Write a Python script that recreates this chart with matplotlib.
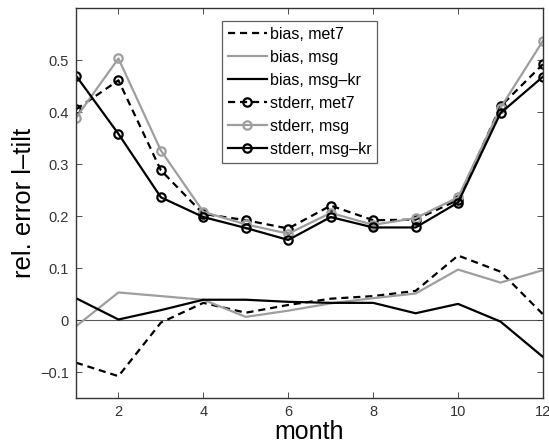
import matplotlib
matplotlib.use("Agg")
import matplotlib.pyplot as plt
import numpy as np

months = [1, 2, 3, 4, 5, 6, 7, 8, 9, 10, 11, 12]

bias_met7 = [-0.082, -0.108, -0.005, 0.033, 0.014, 0.029, 0.041, 0.046, 0.056, 0.124, 0.093, 0.011]
bias_msg = [-0.012, 0.053, 0.046, 0.039, 0.006, 0.018, 0.032, 0.042, 0.051, 0.097, 0.072, 0.096]
bias_msgkr = [0.042, 0.001, 0.019, 0.039, 0.039, 0.035, 0.033, 0.033, 0.013, 0.031, -0.003, -0.071]

std_met7 = [0.405, 0.461, 0.288, 0.204, 0.192, 0.176, 0.220, 0.192, 0.193, 0.231, 0.411, 0.492]
std_msg = [0.389, 0.503, 0.326, 0.208, 0.184, 0.166, 0.206, 0.183, 0.196, 0.236, 0.408, 0.537]
std_msgkr = [0.470, 0.358, 0.236, 0.198, 0.177, 0.154, 0.198, 0.178, 0.178, 0.226, 0.398, 0.468]

labels = ["bias, met7", "bias, msg", "bias, msg\u2013kr",
          "stderr, met7", "stderr, msg", "stderr, msg\u2013kr"]
xticks = [2, 4, 6, 8, 10, 12]
yticks = [-0.1, 0, 0.1, 0.2, 0.3, 0.4, 0.5]
yticklabels = ["\u22120.1", "0", "0.1", "0.2", "0.3", "0.4", "0.5"]

plt.rcParams['font.family'] = ['Liberation Sans', 'DejaVu Sans']

fig = plt.figure(figsize=(5.49, 4.47), dpi=100)
ax = fig.add_axes([0.1384, 0.1096, 0.8506, 0.8724])

gray = (0.62, 0.62, 0.62)
lw = 1.6
ms = 6
mew = 1.6

ax.axhline(0, color=(0.35, 0.35, 0.35), lw=0.8, zorder=1)

ax.plot(months, bias_met7, color='black', ls=(0, (3.2, 2.2)), lw=lw, label=labels[0])
ax.plot(months, bias_msg, color=gray, ls='-', lw=lw, label=labels[1])
ax.plot(months, bias_msgkr, color='black', ls='-', lw=lw, label=labels[2])
ax.plot(months, std_met7, color='black', ls=(0, (3.2, 2.2)), lw=lw, marker='o',
        ms=ms, mfc='none', mec='black', mew=mew, label=labels[3])
ax.plot(months, std_msg, color=gray, ls='-', lw=lw, marker='o',
        ms=ms, mfc='none', mec=gray, mew=mew, label=labels[4])
ax.plot(months, std_msgkr, color='black', ls='-', lw=lw, marker='o',
        ms=ms, mfc='none', mec='black', mew=mew, label=labels[5])

ax.set_xlim(1, 12)
ax.set_ylim(-0.15, 0.6)
ax.set_xticks(xticks)
ax.set_yticks(yticks)
ax.set_yticklabels(yticklabels)
ax.tick_params(direction='in', top=True, right=True, labelsize=10.5,
               length=4, width=0.6, colors='#333333', pad=5)
for s in ax.spines.values():
    s.set_linewidth(1.0)
    s.set_color('#333333')

ax.set_xlabel("month", fontsize=18, labelpad=1)
ax.set_ylabel("rel. error l\u2013tilt", fontsize=18.5, labelpad=3)

leg = ax.legend(loc='upper left', bbox_to_anchor=(0.313, 0.967), fontsize=11.5,
                frameon=True, fancybox=False, edgecolor='#333333',
                handlelength=2.4, handletextpad=0.2, labelspacing=0.5,
                borderpad=0.38, borderaxespad=0)
leg.get_frame().set_linewidth(0.9)

fig.savefig("out.png", dpi=100)
